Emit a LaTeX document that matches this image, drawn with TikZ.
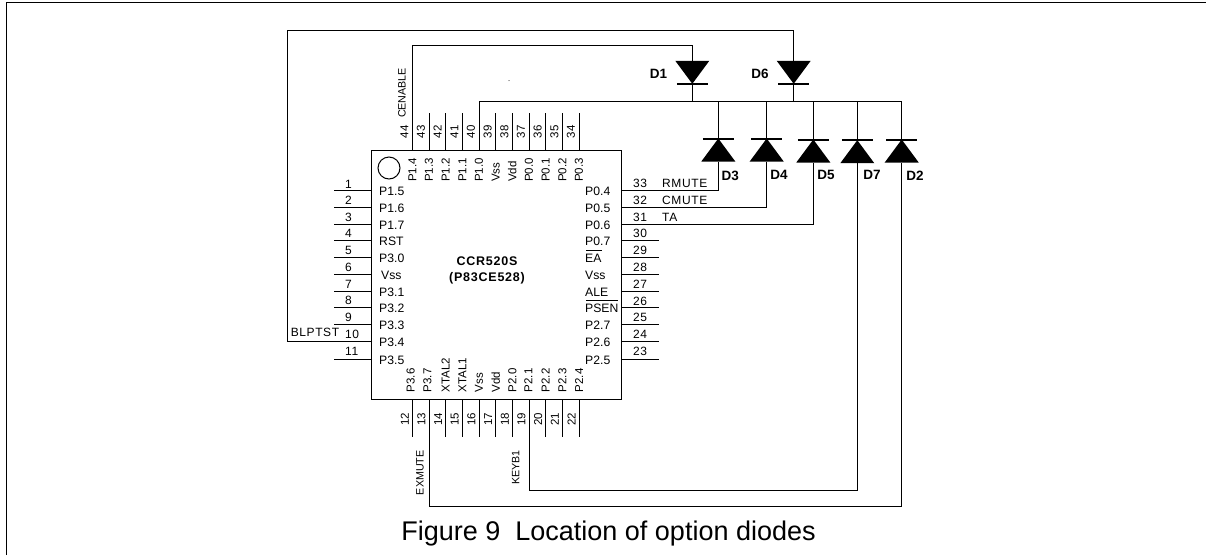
\documentclass[tikz,border=0pt]{standalone}
\usepackage{fontspec}
\setmainfont{Liberation Sans}
\newfontfamily\pinfont[LetterSpace=5]{Liberation Sans}
\newfontfamily\chipfont[LetterSpace=6]{Liberation Sans}
\usetikzlibrary{positioning,arrows,calc}
\tikzset{
    x=1pt,
    y=-1pt,
    wire/.style = {
        draw,
        line width=1pt
    },
    chip/.style = {
        draw,
        shape=rectangle,
        minimum height=249.3pt,
        minimum width=249.3pt,
        inner sep=0pt,
        line width=1pt
    },
    mark circle/.style = {
        draw,
        shape=circle,
        minimum size=22pt,
        inner sep=0pt,
        line width=1pt
    },
    pinname/.style = {
        inner sep=0pt,
        font=\fontsize{12.2}{12.2}\selectfont
    },
    pinnum/.style = {
        inner sep=0pt,
        font=\fontsize{12}{12}\pinfont
    },
    vname/.style = {
        inner sep=0pt,
        rotate=90,
        anchor=west,
        font=\fontsize{11.5}{11.5}\selectfont
    },
    vnum/.style = {
        inner sep=0pt,
        rotate=90,
        font=\fontsize{11.5}{11.5}\selectfont
    },
    netv/.style = {
        inner sep=0pt,
        rotate=90,
        font=\fontsize{10.7}{10.7}\selectfont
    },
    dlabel/.style = {
        inner sep=0pt,
        font=\fontsize{13.5}{13.5}\bfseries\selectfont
    },
    chiptext/.style = {
        inner sep=0pt,
        font=\fontsize{12.5}{12.5}\bfseries\chipfont
    },
    diode/.pic = {
        \fill (-17,-11.5) -- (17,-11.5) -- (0,11.5) -- cycle;
        \path[draw, line width=2pt] (-15.5,11.5) -- (15.5,11.5);
        \coordinate (-top) at (0,-11.5);
        \coordinate (-bar) at (0,11.5);
    },
}
\begin{document}
\begin{tikzpicture}
    \useasboundingbox (0,0) rectangle (1206,555);
    % page frame
    \coordinate (frameA) at (6,555);
    \coordinate (frameB) at (6,2.3);
    \coordinate (frameC) at (1206,2.3);
    \path[wire] (frameA) -- (frameB) -- (frameC);

    \node[chip] (ccr) at (496.5,274.7) {};
    \node[mark circle] (dot) at (389,168) {};
    \node[chiptext] (title) at (487,261) {CCR520S};
    \node[chiptext] (subtitle) at (487,278.3) {(P83CE528)};
    \node[fill, shape=circle, inner sep=0pt, minimum size=1pt] (speck) at (509,80.7) {};

    % left side
    \foreach \n/\y/\ty/\lab in {1/190.7/184/P1.5, 2/207.3/200.7/P1.6, 3/224/217.7/P1.7, 4/240.7/233.7/RST,
        5/257.3/250.7/P3.0, 6/274.3/267/\hspace{2pt}Vss, 7/291/284/P3.1, 8/307.7/300.7/P3.2, 9/324.3/317/P3.3,
        10/341/334/P3.4, 11/359.7/351/P3.5} {
        \coordinate (pin\n) at (372,\y);
        \coordinate (end\n) at (334,\y);
        \path[wire] (pin\n) -- (end\n);
        \node[pinname, anchor=west] (name\n) at (379,\y+1) {\lab};
        \node[pinnum, anchor=west] (num\n) at (345,\ty) {\n};
    }

    % right side
    \foreach \n/\y/\ty/\lab in {33/190.7/183.3/P0.4, 32/207.3/200.7/P0.5, 31/224/217.7/P0.6, 30/240.7/233.7/P0.7,
        29/257.3/250.7/EA, 28/274.3/267.7/Vss, 27/291/284.3/ALE, 26/307.7/301/PSEN, 25/324.3/317.7/P2.7,
        24/341/334/P2.6, 23/359.7/351/P2.5} {
        \coordinate (pin\n) at (621,\y);
        \coordinate (end\n) at (659,\y);
        \node[pinname, anchor=west] (name\n) at (585,\y+1) {\lab};
        \node[pinnum] (num\n) at (640,\ty) {\n};
    }
    \foreach \n in {30,29,28,27,26,25,24,23} {
        \path[wire] (pin\n) -- (end\n);
    }
    \coordinate (eaL) at (586,250);
    \coordinate (eaR) at (602,250);
    \coordinate (psenL) at (586,300);
    \coordinate (psenR) at (618,300);
    \path[wire] (eaL) -- (eaR);
    \path[wire] (psenL) -- (psenR);

    % top side
    \foreach \n/\x/\lab in {44/412.3/P1.4, 43/429/P1.3, 42/445.7/P1.2, 41/462.3/P1.1, 40/479/P1.0, 39/495.7/Vss,
        38/512.3/Vdd, 37/529/P0.0, 36/545.7/P0.1, 35/562.3/P0.2, 34/579/P0.3} {
        \coordinate (pin\n) at (\x,150);
        \coordinate (end\n) at (\x,112.7);
        \node[vname] (name\n) at (\x,182) {\lab};
        \node[vnum] (num\n) at (\x-8,131.7) {\n};
    }
    \foreach \n in {43,42,41,39,38,37,36,35,34} {
        \path[wire] (pin\n) -- (end\n);
    }

    % bottom side
    \foreach \n/\x/\nx/\lab in {12/412.3/410.7/P3.6, 13/429/427.3/P3.7, 14/445.7/445.7/XTAL2, 15/462.3/462.3/XTAL1,
        16/479/479/Vss, 17/495.7/495.7/Vdd, 18/512.3/512.3/P2.0, 19/529/528.3/P2.1, 20/545.7/545.7/P2.2,
        21/562.3/562.3/P2.3, 22/579/579/P2.4} {
        \coordinate (pin\n) at (\x,399.3);
        \coordinate (end\n) at (\x,437.3);
        \node[vname] (name\n) at (\nx,392.3) {\lab};
        \node[vnum] (num\n) at (\x-7.5,419) {\n};
    }
    \foreach \n in {12,14,15,16,17,18,20,21,22} {
        \path[wire] (pin\n) -- (end\n);
    }

    % option diodes
    \pic (d1) at (692.3,72.3) {diode};
    \pic (d6) at (793.7,72.3) {diode};
    \pic[yscale=-1] (d3) at (718.3,150) {diode};
    \pic[yscale=-1] (d4) at (766.7,150) {diode};
    \pic[yscale=-1] (d5) at (813.3,151) {diode};
    \pic[yscale=-1] (d7) at (857.3,151.7) {diode};
    \pic[yscale=-1] (d2) at (901.7,151) {diode};

    \node[dlabel] (ld1) at (658.5,74) {D1};
    \node[dlabel] (ld6) at (760,74) {D6};
    \node[dlabel] (ld3) at (730.3,176) {D3};
    \node[dlabel] (ld4) at (779,175) {D4};
    \node[dlabel] (ld5) at (826,174.7) {D5};
    \node[dlabel] (ld7) at (872,174.7) {D7};
    \node[dlabel] (ld2) at (915,176) {D2};

    % nets
    \coordinate (railEnd) at (901.7,101.3);
    \coordinate (exBottom) at (429,506.7);
    \coordinate (keyBottom) at (529,490.7);
    \coordinate (topA) at (412.3,45.7);
    \coordinate (topB) at (287.3,30);

    \path[wire] (pin44) -- (topA) -| (d1-top);
    \path[wire] (pin10) -| (topB) -| (d6-top);
    \path[wire] (pin40) |- (railEnd) -- (d2-bar);
    \path[wire] (d1-bar) -- (d1-bar |- railEnd);
    \path[wire] (d6-bar) -- (d6-bar |- railEnd);
    \path[wire] (d3-bar) -- (d3-bar |- railEnd);
    \path[wire] (d4-bar) -- (d4-bar |- railEnd);
    \path[wire] (d5-bar) -- (d5-bar |- railEnd);
    \path[wire] (d7-bar) -- (d7-bar |- railEnd);
    \path[wire] (pin33) -| (d3-top);
    \path[wire] (pin32) -| (d4-top);
    \path[wire] (pin31) -| (d5-top);
    \path[wire] (pin19) -- (keyBottom) -| (d7-top);
    \path[wire] (pin13) -- (exBottom) -| (d2-top);

    \node[netv] (cenable) at (402,93) {CENABLE};
    \node[pinnum] (blptst) at (315,332.7) {BLPTST};
    \node[pinnum, anchor=west] (rmute) at (662,183) {RMUTE};
    \node[pinnum, anchor=west] (cmute) at (662,200.7) {CMUTE};
    \node[pinnum, anchor=west] (ta) at (662,217.7) {TA};
    \node[netv] (exmute) at (420,472.7) {EXMUTE};
    \node[netv] (keyb) at (515.7,467.7) {KEYB1};

    \node[inner sep=0pt, anchor=base, font=\fontsize{27}{27}\selectfont] (caption) at (608.5,540) {Figure 9\ \ Location of option diodes};
\end{tikzpicture}
\end{document}
